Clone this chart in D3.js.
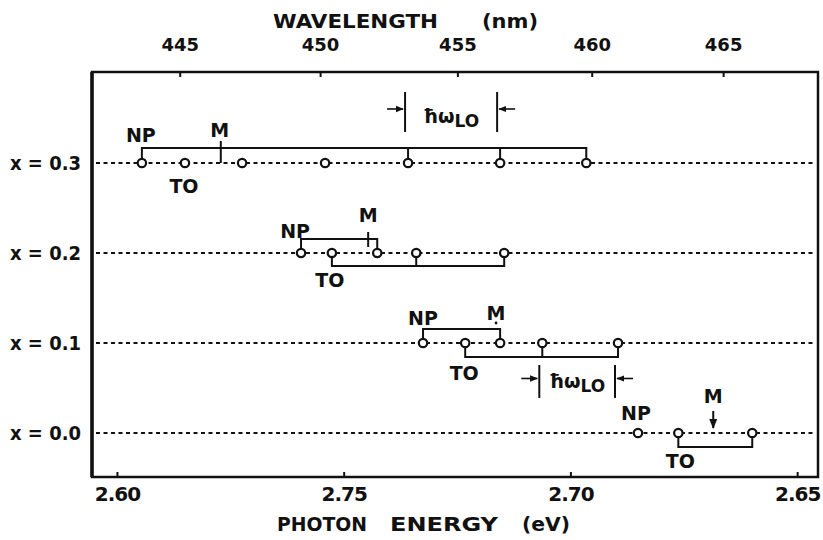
<!DOCTYPE html>
<html><head><meta charset="utf-8">
<script src="https://cdn.jsdelivr.net/npm/d3@7"></script>
<style>
html,body{margin:0;padding:0;background:#fff;}
text{font-family:"DejaVu Sans",sans-serif;font-weight:bold;fill:#111;}
</style></head>
<body><svg id="c" width="823" height="540"></svg>
<script>
// ---- data ----
const rowValues = [0.3, 0.2, 0.1, 0.0];
const rowLabels = ["x = 0.3", "x = 0.2", "x = 0.1", "x = 0.0"];
const npEnergy = [2.7945, 2.7594, 2.7325, 2.6851];
const toEnergy = [2.7850, 2.7526, 2.7232, 2.6762];
const mEnergy  = [2.7771, 2.7446, 2.7164, 2.6685];
const peaks03 = [2.7945, 2.7850, 2.7724, 2.7541, 2.7358, 2.7155, 2.6965];
const peaks02 = [2.7594, 2.7526, 2.7426, 2.7340, 2.7146];
const peaks01 = [2.7325, 2.7232, 2.7155, 2.7062, 2.6895];
const peaks00 = [2.6851, 2.6762, 2.6599];
const upperBracket03 = [2.7358, 2.7155, 2.6965];
const upperBracket02 = [2.7426];
const upperBracket01 = [2.7155];
const lowerBracket02 = [2.7340, 2.7146];
const lowerBracket01 = [2.7062, 2.6895];
const lowerBracket00 = [2.6599];
const lo03 = [2.7358, 2.7155];
const lo01 = [2.7062, 2.6895];
const energyTicks = [2.80, 2.75, 2.70, 2.65];
const energyTickLabels = ["2.60", "2.75", "2.70", "2.65"];
const wavelengthTicks = [445, 450, 455, 460, 465];
const energyDomain = [2.8055, 2.6454];
const rowDomain = [-0.0489, 0.4011];

// ---- layout ----
const L = 92, R = 818, T = 72, B = 477;
const svg = d3.select("#c");
const x = d3.scaleLinear().domain(energyDomain).range([L, R]);
const y = d3.scaleLinear().domain(rowDomain).range([B, T]);
const rad = 4.2;

const rows = [
  {v: rowValues[0], label: rowLabels[0], peaks: peaks03, np: npEnergy[0], to: toEnergy[0], m: mEnergy[0],
   up: upperBracket03, upOff: -15, low: [], lowOff: 14, mStyle: "tick",
   npLab: [-1, -21], toLab: [-1, 30], mLab: [-1, -26]},
  {v: rowValues[1], label: rowLabels[1], peaks: peaks02, np: npEnergy[1], to: toEnergy[1], m: mEnergy[1],
   up: upperBracket02, upOff: -14, low: lowerBracket02, lowOff: 13, mStyle: "tick",
   npLab: [-6, -15], toLab: [-2, 34], mLab: [0, -31]},
  {v: rowValues[2], label: rowLabels[2], peaks: peaks01, np: npEnergy[2], to: toEnergy[2], m: mEnergy[2],
   up: upperBracket01, upOff: -14, low: lowerBracket01, lowOff: 14, mStyle: "dot",
   npLab: [0, -18], toLab: [-1, 37], mLab: [0, -23]},
  {v: rowValues[3], label: rowLabels[3], peaks: peaks00, np: npEnergy[3], to: toEnergy[3], m: mEnergy[3],
   up: [], upOff: -14, low: lowerBracket00, lowOff: 14, mStyle: "arrow",
   npLab: [-2, -13], toLab: [2, 35], mLab: [0, -30]}
];

const defs = svg.append("defs");
defs.append("marker").attr("id", "ah").attr("viewBox", "0 0 10 10").attr("refX", 9).attr("refY", 5)
  .attr("markerWidth", 5).attr("markerHeight", 5).attr("orient", "auto-start-reverse")
  .append("path").attr("d", "M0,1 L10,5 L0,9 z").attr("fill", "#111");

svg.append("g").selectAll("line").data(rows).join("line")
  .attr("x1", L + 4).attr("x2", R - 2)
  .attr("y1", d => y(d.v)).attr("y2", d => y(d.v))
  .attr("stroke", "#111").attr("stroke-width", 2).attr("stroke-dasharray", "4,3.5");

const g = svg.append("g").attr("fill", "none").attr("stroke", "#111").attr("stroke-width", 2);
rows.forEach(r => {
  const cy = y(r.v);
  if (r.up.length) {
    const end = r.up[r.up.length - 1];
    g.append("path").attr("d", `M${x(r.np)},${cy - rad} V${cy + r.upOff} H${x(end)} V${cy - rad}`);
    r.up.slice(0, -1).forEach(e => g.append("line").attr("x1", x(e)).attr("x2", x(e))
      .attr("y1", cy + r.upOff).attr("y2", cy - rad));
  }
  if (r.low.length) {
    const end = r.low[r.low.length - 1];
    g.append("path").attr("d", `M${x(r.to)},${cy + rad} V${cy + r.lowOff} H${x(end)} V${cy + rad}`);
    r.low.slice(0, -1).forEach(e => g.append("line").attr("x1", x(e)).attr("x2", x(e))
      .attr("y1", cy + r.lowOff).attr("y2", cy + rad));
  }
  const mx = x(r.m);
  if (r.mStyle === "tick") {
    g.append("line").attr("x1", mx).attr("x2", mx)
      .attr("y1", cy - (r.v > 0.25 ? 22 : 21)).attr("y2", cy - (r.v > 0.25 ? 0 : 6));
  } else if (r.mStyle === "dot") {
    svg.append("circle").attr("cx", mx).attr("cy", cy - 20).attr("r", 1.4).attr("fill", "#111");
  } else {
    g.append("line").attr("x1", mx).attr("x2", mx).attr("y1", cy - 22).attr("y2", cy - 5)
      .attr("marker-end", "url(#ah)");
  }
  svg.append("g").selectAll("circle").data(r.peaks).join("circle")
    .attr("cx", d => x(d)).attr("cy", cy).attr("r", rad)
    .attr("fill", "#fff").attr("stroke", "#111").attr("stroke-width", 2.2);
  const lab = (t, e, off) => svg.append("text").attr("x", x(e) + off[0]).attr("y", cy + off[1])
    .attr("text-anchor", "middle").attr("font-size", 19).text(t);
  lab("NP", r.np, r.npLab);
  lab("TO", r.to, r.toLab);
  lab("M", r.m, r.mLab);
  svg.append("text").attr("x", 10).attr("y", cy + 7).attr("font-size", 19)
    .attr("textLength", 71).attr("lengthAdjust", "spacingAndGlyphs").text(r.label);
});

function loMark(pair, cy, barTop, barBot, textY) {
  const a = x(pair[0]) - 3, b = x(pair[1]) - 3;
  g.append("line").attr("x1", a).attr("x2", a).attr("y1", cy + barTop).attr("y2", cy + barBot);
  g.append("line").attr("x1", b).attr("x2", b).attr("y1", cy + barTop).attr("y2", cy + barBot);
  const ay = cy + (barTop + barBot) / 2 - 3;
  g.append("line").attr("x1", a - 18).attr("x2", a - 2).attr("y1", ay).attr("y2", ay).attr("stroke-width", 1.6).attr("marker-end", "url(#ah)");
  g.append("line").attr("x1", b + 18).attr("x2", b + 2).attr("y1", ay).attr("y2", ay).attr("stroke-width", 1.6).attr("marker-end", "url(#ah)");
  const t = svg.append("text").attr("x", (a + b) / 2).attr("y", cy + textY).attr("text-anchor", "middle").attr("font-size", 19);
  t.append("tspan").text("ħω");
  t.append("tspan").attr("font-size", 17).attr("dy", 4).text("LO");
}
loMark(lo03, y(rowValues[0]), -71, -31, -40);
loMark(lo01, y(rowValues[2]), 22, 55, 45);

const bottomAxis = svg.append("g").attr("transform", `translate(0,${B})`)
  .call(d3.axisBottom(x).tickValues(energyTicks).tickFormat((d, i) => energyTickLabels[i])
    .tickSizeInner(-5).tickSizeOuter(0).tickPadding(10));
bottomAxis.select(".domain").remove();
bottomAxis.selectAll("line").attr("stroke", "#111").attr("stroke-width", 2);
bottomAxis.selectAll("text").attr("font-size", 20).attr("font-family", "DejaVu Sans").attr("font-weight", "bold").attr("letter-spacing", -1);

const topAxis = svg.append("g").attr("transform", `translate(0,${T})`)
  .call(d3.axisTop(x).tickValues(wavelengthTicks.map(l => 1239.84 / l)).tickFormat((d, i) => wavelengthTicks[i])
    .tickSizeInner(-5).tickSizeOuter(0).tickPadding(21));
topAxis.select(".domain").remove();
topAxis.selectAll("line").attr("stroke", "#111").attr("stroke-width", 2);
topAxis.selectAll("text").attr("font-size", 18).attr("font-family", "DejaVu Sans").attr("font-weight", "bold");

svg.append("rect").attr("x", L).attr("y", T).attr("width", R - L).attr("height", B - T)
  .attr("fill", "none").attr("stroke", "#111").attr("stroke-width", 2.5);
svg.append("line").attr("x1", L).attr("x2", L).attr("y1", T).attr("y2", B).attr("stroke", "#111").attr("stroke-width", 3.5);

// titles (words spaced as in the reference)
const titleWord = (t, x0, yb, fs, len) => svg.append("text").attr("x", x0).attr("y", yb)
  .attr("font-size", fs).attr("textLength", len).attr("lengthAdjust", "spacingAndGlyphs").text(t);
titleWord("WAVELENGTH", 273, 28, 20, 165);
titleWord("(nm)", 482, 28, 20, 56);
titleWord("PHOTON", 277, 531, 19, 90);
titleWord("ENERGY", 390, 531, 19, 108);
titleWord("(eV)", 522, 531, 19, 48);
</script></body></html>
